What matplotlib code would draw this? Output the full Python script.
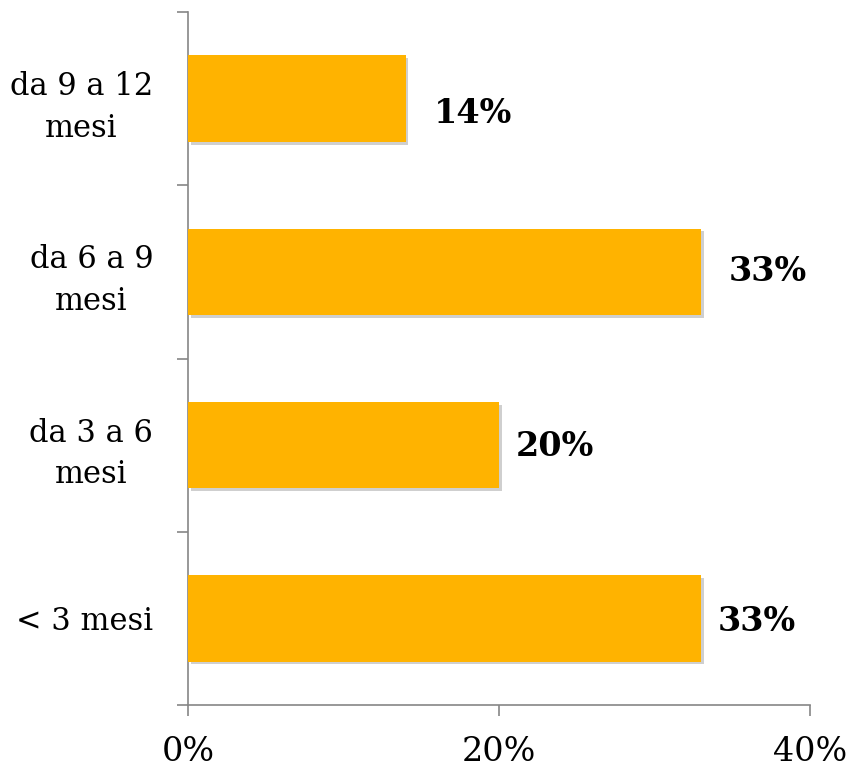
import matplotlib
matplotlib.use("Agg")
import matplotlib.pyplot as plt
import matplotlib.patheffects as pe
import numpy as np

categories = ["< 3 mesi", "da 3 a 6\nmesi", "da 6 a 9\nmesi", "da 9 a 12\nmesi"]
values = [33, 20, 33, 14]
value_labels = ["33%", "20%", "33%", "14%"]
xticks = [0, 20, 40]
xtick_labels = ["0%", "20%", "40%"]

# label offsets (points): x gap after bar end, y shift
label_dx = [12, 12, 20, 20]
label_dy = [-2, -1, 0, -11]

plt.rcParams['font.family'] = ['DejaVu Serif']

fig = plt.figure(figsize=(8.5, 7.67), dpi=100)
ax = fig.add_axes([188/850, 1-705/767, (810-188)/850, (705-12)/767])

y = np.arange(len(categories))
bars = ax.barh(y, values, height=0.5, color="#FFB300", zorder=3)
for b in bars:
    b.set_path_effects([pe.SimplePatchShadow(offset=(2, -2), shadow_rgbFace="#888888", alpha=0.4), pe.Normal()])

for yi, v, lab, dx, dy in zip(y, values, value_labels, label_dx, label_dy):
    ax.annotate(lab, xy=(v, yi), xytext=(dx, dy), textcoords="offset points",
                va="center", ha="left", fontsize=24, fontweight="bold", color="black")

ax.set_xlim(0, 40)
ax.set_ylim(-0.5, len(categories) - 0.5)

ax.set_xticks(xticks)
ax.set_xticklabels(xtick_labels, fontsize=24)
ax.tick_params(axis="x", length=8, width=1.2, color="#868686", pad=14)

ax.set_yticks(np.arange(-0.5, len(categories), 1.0))
ax.set_yticklabels([])
ax.tick_params(axis="y", which="major", length=8, width=1.2, color="#868686")
ax.set_yticks(y, minor=True)
ax.set_yticklabels(categories, minor=True, fontsize=22, multialignment="center", linespacing=1.45)
ax.tick_params(axis="y", which="minor", length=0, pad=25)

for s in ["top", "right"]:
    ax.spines[s].set_visible(False)
for s in ["left", "bottom"]:
    ax.spines[s].set_color("#868686")
    ax.spines[s].set_linewidth(1.2)

fig.savefig("out.png", dpi=100)
